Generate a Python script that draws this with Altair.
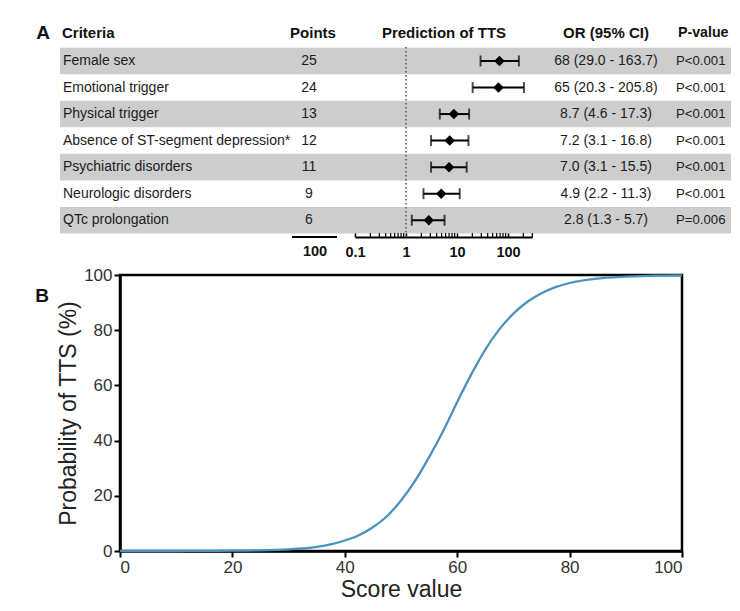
import altair as alt
import pandas as pd

# ---------------- data ----------------
criteria = [
    "Female sex",
    "Emotional trigger",
    "Physical trigger",
    "Absence of ST-segment depression*",
    "Psychiatric disorders",
    "Neurologic disorders",
    "QTc prolongation",
]
points = [25, 24, 13, 12, 11, 9, 6]
odds_ratio = [68, 65, 8.7, 7.2, 7.0, 4.9, 2.8]
ci_low = [29.0, 20.3, 4.6, 3.1, 3.1, 2.2, 1.3]
ci_high = [163.7, 205.8, 17.3, 16.8, 15.5, 11.3, 5.7]
or_labels = [
    "68 (29.0 - 163.7)",
    "65 (20.3 - 205.8)",
    "8.7 (4.6 - 17.3)",
    "7.2 (3.1 - 16.8)",
    "7.0 (3.1 - 15.5)",
    "4.9 (2.2 - 11.3)",
    "2.8 (1.3 - 5.7)",
]
p_labels = ["P<0.001", "P<0.001", "P<0.001", "P<0.001", "P<0.001", "P<0.001", "P=0.006"]

or_major_ticks = [0.1, 1, 10, 100]
or_minor_ticks = [0.2, 0.3, 0.4, 0.5, 0.6, 0.7, 0.8, 0.9,
                  2, 3, 4, 5, 6, 7, 8, 9,
                  20, 30, 40, 50, 60, 70, 80, 90,
                  200, 300]
points_total_label = "100"

score = [0, 5, 10, 15, 20, 25, 30, 32.5, 35, 37.5, 40, 42.5, 45, 47.5, 50, 52.5, 55, 57.5,
         60, 62.5, 65, 67.5, 70, 72.5, 75, 77.5, 80, 85, 90, 95, 100]
prob = [0.0, 0.0, 0.0, 0.05, 0.1, 0.25, 0.6, 0.9, 1.5, 2.4, 3.8, 5.7, 8.6, 12.6, 18.3, 25.4,
        34.0, 43.5, 54.0, 64.0, 73.0, 80.3, 86.0, 90.3, 93.4, 95.6, 97.1, 98.7, 99.4, 99.8, 99.9]
score_ticks = [0, 20, 40, 60, 80, 100]
prob_ticks = [0, 20, 40, 60, 80, 100]

table = pd.DataFrame({
    "row": list(range(len(criteria))),
    "criteria": criteria,
    "points": points,
    "or": odds_ratio,
    "lo": ci_low,
    "hi": ci_high,
    "or_label": or_labels,
    "p_label": p_labels,
})
curve = pd.DataFrame({"score": score, "prob": prob})
minor_df = pd.DataFrame({"v": or_minor_ticks})
ref_df = pd.DataFrame({"v": [1]})

# ---------------- styling ----------------
FONT = "Liberation Sans"
TXT = "#1c1c1c"
BODY = 14
HEAD = 15

row_scale = alt.Scale(domain=criteria, range=[-227.3, -41.5], paddingInner=0, paddingOuter=0)
y_row = alt.Y("criteria:N", scale=row_scale, axis=None)
or_scale = alt.Scale(type="log", domain=[0.1, 300], range=[235, 412.3], nice=False)

base = alt.Chart(table)

bands = base.transform_filter("datum.row % 2 == 0").mark_rect(color="#cdcdcd").encode(
    y=y_row, x=alt.value(-60), x2=alt.value(611)
)

def col_text(field, xpos, align, size=BODY):
    return base.mark_text(align=align, baseline="middle", font=FONT, fontSize=size, color=TXT).encode(
        y=y_row, x=alt.value(xpos), text=f"{field}:N"
    )

crit_text = col_text("criteria", -57, "left")
pts_text = col_text("points", 189, "center")
or_text = col_text("or_label", 486, "center")
p_text = col_text("p_label", 556, "left", 13.2)

def header(label, xpos, align, size=HEAD, ypos=-242):
    return alt.Chart(pd.DataFrame({"t": [label]})).mark_text(
        align=align, baseline="middle", font=FONT, fontSize=size, fontWeight="bold", color="#111"
    ).encode(x=alt.value(xpos), y=alt.value(ypos), text="t:N")

headers = [
    header("A", -77, "center", 19),
    header("Criteria", -58, "left"),
    header("Points", 193, "center"),
    header("Prediction of TTS", 324, "center"),
    header("OR (95% CI)", 486, "center"),
    header("P-value", 558, "left", 14.2),
    header("B", -78, "center", 19, 21),
]

ref_line = alt.Chart(ref_df).mark_rule(color="#555", strokeWidth=1.6, strokeDash=[1.5, 2.5]).encode(
    x=alt.X("v:Q", scale=or_scale, axis=None), y=alt.value(-228), y2=alt.value(-38)
)

ci_rule = base.mark_rule(color="black", strokeWidth=2).encode(
    x=alt.X("lo:Q", scale=or_scale, axis=alt.Axis(
        orient="top", offset=38, values=or_major_ticks, format="~g", title=None,
        domainColor="black", domainWidth=2, tickColor="black", tickWidth=1.5, tickSize=7,
        labelFont=FONT, labelFontSize=14.5, labelFontWeight="bold", labelColor="#111",
        labelPadding=-22, labelBaseline="middle", labelFlush=False, grid=False,
    )),
    x2="hi:Q",
    y=y_row,
)

cap_lo = base.mark_tick(color="black", thickness=2, size=11).encode(
    x=alt.X("lo:Q", scale=or_scale, axis=None), y=y_row
)
cap_hi = base.mark_tick(color="black", thickness=2, size=11).encode(
    x=alt.X("hi:Q", scale=or_scale, axis=None), y=y_row
)
diamonds = base.mark_point(shape="diamond", filled=True, color="black", opacity=1, size=110).encode(
    x=alt.X("or:Q", scale=or_scale, axis=None), y=y_row
)
minor = alt.Chart(minor_df).mark_rule(color="black", strokeWidth=1.2).encode(
    x=alt.X("v:Q", scale=or_scale, axis=None), y=alt.value(-38), y2=alt.value(-42)
)

pts_axis_line = alt.Chart(pd.DataFrame({"t": [points_total_label]})).mark_rule(
    color="black", strokeWidth=2
).encode(x=alt.value(172), x2=alt.value(217), y=alt.value(-38))
pts_axis_label = alt.Chart(pd.DataFrame({"t": [points_total_label]})).mark_text(
    align="center", baseline="middle", font=FONT, fontSize=14.5, fontWeight="bold", color="#111"
).encode(x=alt.value(195), y=alt.value(-23), text="t:N")

line = alt.Chart(curve).mark_line(color="#4b93bd", strokeWidth=2.3, interpolate="monotone").encode(
    x=alt.X("score:Q", scale=alt.Scale(domain=[0, 100], nice=False), axis=alt.Axis(
        orient="bottom", values=score_ticks, title="Score value", titlePadding=3,
    )),
    y=alt.Y("prob:Q", scale=alt.Scale(domain=[0, 100], nice=False), axis=alt.Axis(
        orient="left", values=prob_ticks, title="Probability of TTS (%)", titlePadding=3,
    )),
)

chart = alt.layer(
    bands, crit_text, pts_text, or_text, p_text, *headers,
    ref_line, minor, ci_rule, cap_lo, cap_hi, diamonds,
    pts_axis_line, pts_axis_label, line,
).resolve_scale(x="independent", y="independent").properties(
    width=562, height=276,
    autosize=alt.AutoSizeParams(type="none"),
    padding={"left": 112, "top": 267, "right": 50, "bottom": 52},
).configure_view(
    stroke="black", strokeWidth=2.5
).configure_axis(
    domainColor="black", domainWidth=2.5, tickColor="black", tickWidth=2, tickSize=6,
    labelFont=FONT, labelFontSize=17, labelColor="#333", labelPadding=2,
    titleFont=FONT, titleFontSize=23, titleFontWeight="normal", titleColor="#222", grid=False,
)

chart.save("out.html", embed_options={"renderer": "svg", "actions": False})
